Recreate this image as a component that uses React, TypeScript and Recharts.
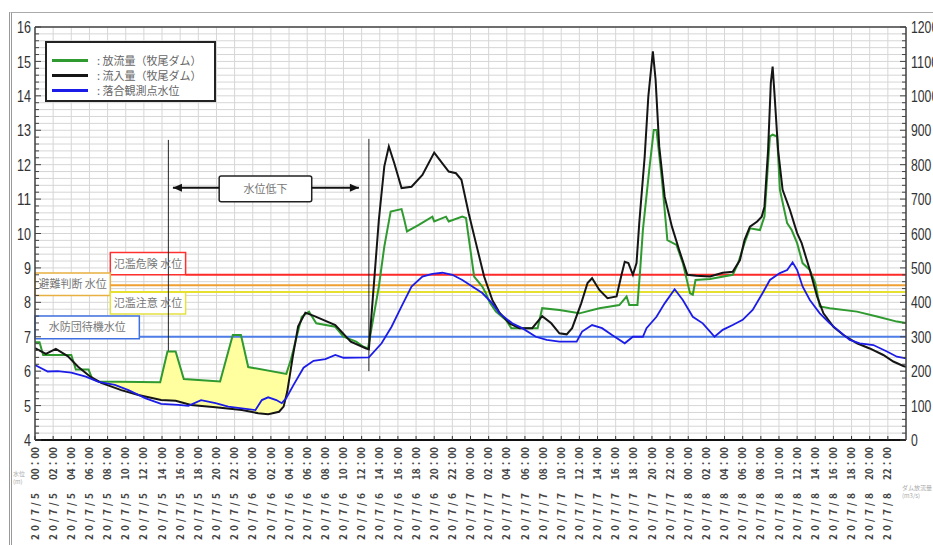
import {
  ComposedChart,
  Line,
  Area,
  XAxis,
  YAxis,
  CartesianGrid,
  Legend,
  ReferenceLine,
  ReferenceArea,
  ReferenceDot,
} from "recharts"

// 放流量（牧尾ダム） m3/s  [hours from 2020/7/5 00:00, value]
const outflow: [number, number][] = [
  [0, 284], [0.5, 284], [0.9, 247], [4.0, 247], [4.5, 205], [5.9, 205], [6.3, 178], [7.0, 170],
  [13.8, 168], [14.6, 257], [15.5, 257], [16.4, 177], [20.4, 170], [21.8, 305], [22.7, 305],
  [23.5, 212], [27.7, 192], [28.2, 233], [29.4, 358], [30.2, 373], [31.0, 339], [33.1, 329],
  [34.0, 300], [35.4, 286], [36.2, 271], [36.7, 266], [37.9, 446], [38.5, 562], [39.2, 664],
  [40.4, 671], [40.7, 640], [41.0, 606], [42.3, 625], [43.8, 649], [44.0, 635], [45.3, 649],
  [45.6, 635], [47.1, 649], [47.5, 645], [48.4, 475], [49.3, 446], [49.7, 426], [50.1, 400],
  [50.8, 373], [51.9, 349], [52.5, 325], [55.4, 325], [55.9, 383], [57.8, 378], [60.0, 368],
  [62.2, 383], [64.4, 392], [65.2, 417], [65.5, 392], [66.4, 392], [66.7, 494], [67.0, 610],
  [67.7, 785], [68.2, 901], [68.5, 901], [69.1, 756], [69.7, 581], [70.7, 567], [71.4, 514],
  [72.2, 426], [72.5, 422], [72.8, 465], [74.4, 468], [76.9, 480], [77.5, 514], [78.2, 572],
  [78.8, 615], [79.9, 610], [80.4, 649], [81.0, 882], [81.3, 887], [81.8, 882], [82.1, 727],
  [82.9, 630], [83.4, 610], [84.0, 572], [84.6, 514], [85.4, 494], [86.0, 456], [86.5, 388],
  [87.6, 383], [90.6, 373], [92.8, 359], [95.0, 344], [96, 340],
]

// 流入量（牧尾ダム） m3/s
const inflow: [number, number][] = [
  [0, 267], [1.2, 250], [2.3, 265], [3.6, 244], [4.75, 213], [6.1, 184], [7.3, 166], [9.5, 145],
  [11.4, 131], [13.9, 116], [15.5, 114], [17.2, 102], [19.9, 95], [22.8, 87], [24.6, 78],
  [25.7, 75], [26.9, 82], [27.4, 97], [27.8, 140], [28.4, 240], [29.0, 330], [29.8, 370],
  [30.8, 360], [33.1, 334], [34.8, 286], [36.5, 266], [36.8, 264], [37.9, 640], [38.5, 795],
  [39.0, 853], [39.6, 804], [40.4, 732], [41.5, 736], [42.7, 770], [44.0, 835], [44.9, 804],
  [45.6, 780], [46.4, 775], [47.0, 756], [47.8, 659], [48.6, 572], [49.5, 475], [50.4, 407],
  [51.2, 370], [52.3, 339], [53.4, 325], [54.8, 325], [55.9, 360], [56.9, 339], [57.8, 310],
  [58.6, 307], [59.2, 325], [60.2, 397], [60.9, 456], [61.4, 470], [62.2, 436], [63.1, 412],
  [64.1, 417], [64.6, 475], [65.0, 518], [65.4, 514], [65.9, 480], [66.3, 514], [66.6, 630],
  [67.2, 824], [67.6, 998], [68.1, 1129], [68.4, 1047], [68.8, 853], [69.4, 707], [70.2, 620],
  [71.0, 552], [71.9, 480], [72.9, 477], [74.4, 475], [75.8, 486], [76.9, 489], [77.7, 523],
  [78.2, 581], [78.8, 620], [79.6, 635], [80.1, 649], [80.4, 678], [80.8, 843], [81.1, 1037],
  [81.3, 1085], [81.5, 1008], [81.9, 843], [82.4, 727], [83.2, 669], [84.0, 601], [84.5, 572],
  [85.4, 494], [86.2, 417], [86.9, 368], [88.0, 329], [89.1, 305], [90.6, 281], [92.0, 266],
  [93.5, 247], [94.6, 228], [95.7, 215], [96, 213],
]

// 落合観測点水位 m
const waterLevel: [number, number][] = [
  [0, 6.18], [1.4, 5.99], [2.5, 6.0], [4.0, 5.96], [5.6, 5.84], [7.0, 5.69], [8.8, 5.6],
  [10.3, 5.45], [12.2, 5.21], [13.9, 5.05], [15.8, 5.02], [16.9, 4.99], [18.3, 5.16],
  [19.9, 5.07], [21.3, 4.97], [22.8, 4.92], [24.3, 4.87], [25.0, 5.16], [25.7, 5.24],
  [26.6, 5.16], [27.2, 5.07], [27.7, 5.22], [28.5, 5.6], [29.6, 6.1], [30.7, 6.3], [32.0, 6.35],
  [33.1, 6.47], [34.0, 6.39], [36.8, 6.4], [38.2, 6.81], [39.3, 7.29], [40.4, 7.88], [41.5, 8.46],
  [42.7, 8.75], [43.8, 8.83], [44.9, 8.86], [46.0, 8.8], [47.1, 8.65], [48.2, 8.46], [49.3, 8.27],
  [50.4, 7.97], [51.2, 7.68], [52.6, 7.39], [53.7, 7.25], [55.2, 7.0], [56.4, 6.91], [57.8, 6.86],
  [59.7, 6.86], [60.3, 7.15], [61.4, 7.34], [62.5, 7.25], [63.6, 7.05], [65.0, 6.81], [65.9, 7.0],
  [67.0, 7.0], [67.4, 7.25], [68.5, 7.58], [69.4, 7.97], [70.5, 8.38], [71.4, 8.07], [72.5, 7.58],
  [73.6, 7.39], [74.4, 7.15], [74.9, 7.0], [75.8, 7.2], [76.9, 7.34], [78.0, 7.49], [79.1, 7.78],
  [80.2, 8.27], [81.0, 8.65], [82.1, 8.85], [82.9, 8.94], [83.5, 9.16], [84.0, 8.94], [84.6, 8.46],
  [85.4, 8.07], [86.5, 7.68], [87.6, 7.39], [88.7, 7.15], [89.8, 6.91], [90.9, 6.81], [92.4, 6.76],
  [93.9, 6.57], [95.0, 6.42], [96, 6.37],
]

// shaded gap between inflow (low) and outflow (high), m3/s
const storedGap: [number, number, number][] = [
  [6.3, 178, 178], [7.0, 168, 170], [9.5, 145, 169], [11.4, 131, 169], [13.8, 117, 168],
  [14.6, 115, 257], [15.5, 114, 257], [16.4, 110, 177], [17.2, 102, 176], [19.9, 95, 171],
  [20.4, 94, 170], [21.8, 90, 305], [22.7, 87, 305], [23.5, 83, 212], [24.6, 78, 207],
  [25.7, 75, 202], [26.9, 82, 197], [27.4, 97, 195], [27.8, 140, 196], [28.2, 215, 233],
]

// thresholds (m)
const dangerLevel = 8.8
const evacuationLevel = 8.5
const warningLevel = 8.3
const standbyLevel = 7.0

const hourTicks = Array.from({ length: 48 }, (_, i) => i * 2)
const levelTicks = Array.from({ length: 61 }, (_, i) => Math.round((4 + i * 0.2) * 10) / 10)
const flowTicks = Array.from({ length: 61 }, (_, i) => i * 20)

const toRows = (arr: [number, number][]) => arr.map(([h, v]) => ({ h, v }))
const gapRows = storedGap.map(([h, lo, hi]) => ({ h, range: [lo, hi] }))

const numFont = "'Liberation Sans', Arial, sans-serif"
const jpFont = "'Noto Sans CJK JP', sans-serif"
const digitWidth = 6.8

const TimeTick = (props: any) => {
  const { x, y, payload } = props
  const h = payload.value as number
  const day = 5 + Math.floor(h / 24)
  const hh = String(h % 24).padStart(2, "0")
  const axisY = y - 7
  return (
    <g>
      <line x1={x} x2={x} y1={axisY} y2={axisY - 4} stroke="#333" />
      <text
        transform={`translate(${x},${y}) rotate(-90)`}
        textAnchor="end"
        dy="0.36em"
        fontSize={10}
        fontWeight="bold"
        fontFamily={jpFont}
        fill="#444"
        textLength={33}
        lengthAdjust="spacing"
      >
        {`${hh}：00`}
      </text>
      <text
        transform={`translate(${x},${y + 46}) rotate(-90)`}
        textAnchor="end"
        dy="0.36em"
        fontSize={10}
        fontWeight="bold"
        fontFamily={jpFont}
        fill="#444"
        textLength={47}
        lengthAdjust="spacing"
      >
        {`20/7/${day}`}
      </text>
    </g>
  )
}

const LevelTick = (props: any) => {
  const { x, y, payload } = props
  const v = payload.value as number
  const major = Math.abs(v - Math.round(v)) < 1e-6
  const axisX = x + 4
  const label = String(Math.round(v))
  return (
    <g>
      <line x1={axisX} x2={axisX + (major ? 6 : 4)} y1={y} y2={y} stroke="#444" />
      {major && (
        <text
          x={x}
          y={y}
          dy="0.36em"
          textAnchor="end"
          fontSize={17}
          fontFamily={numFont}
          fill="#333"
          textLength={label.length * 7}
          lengthAdjust="spacingAndGlyphs"
        >
          {label}
        </text>
      )}
    </g>
  )
}

const FlowTick = (props: any) => {
  const { x, y, payload } = props
  const v = payload.value as number
  const major = v % 100 === 0
  const axisX = x - 5
  const label = String(v)
  return (
    <g>
      <line x1={axisX} x2={axisX - (major ? 6 : 4)} y1={y} y2={y} stroke="#444" />
      {major && (
        <text
          x={x}
          y={y}
          dy="0.36em"
          textAnchor="start"
          fontSize={17}
          fontFamily={numFont}
          fill="#333"
          textLength={label.length * digitWidth}
          lengthAdjust="spacingAndGlyphs"
        >
          {label}
        </text>
      )}
    </g>
  )
}

const renderLegend = (props: any) => {
  const items = (props.payload || []).filter((p: any) => p.type !== "none")
  return (
    <div
      style={{
        border: "2px solid #222",
        background: "#fff",
        width: 167,
        height: 47,
        boxSizing: "content-box",
        paddingTop: 10,
      }}
    >
      {items.map((p: any) => (
        <div key={p.value} style={{ display: "flex", alignItems: "center", height: 15, whiteSpace: "nowrap" }}>
          <span style={{ display: "inline-block", width: 36, height: 3, background: p.color, marginLeft: 5, flex: "none" }} />
          <span style={{ fontSize: 11, color: "#666", fontFamily: jpFont, marginLeft: 9, lineHeight: "13px" }}>
            : {p.value}
          </span>
        </div>
      ))}
    </div>
  )
}

const arrowHead = (dir: number) => (props: any) => {
  const { cx, cy } = props
  return (
    <polygon
      points={`${cx},${cy} ${cx - dir * 9},${cy - 4} ${cx - dir * 9},${cy + 4}`}
      fill="#111"
    />
  )
}

const boxLabel = (value: string) => ({
  value,
  position: "center" as const,
  fill: "#777",
  fontSize: 11,
  fontFamily: jpFont,
})

export default function App() {
  return (
    <div style={{ position: "absolute", left: 0, top: 0, width: 933, height: 545, background: "#fff", overflow: "hidden" }}>
      <div
        style={{
          position: "absolute",
          left: 9,
          top: 12,
          width: 940,
          height: 600,
          borderLeft: "3px double #999",
          borderTop: "1px solid #aaa",
        }}
      />
      <div style={{ position: "absolute", left: 13, top: 470, fontSize: 6, color: "#aaa", fontFamily: jpFont, lineHeight: "8px" }}>
        水位
        <br />
        (m)
      </div>
      <div style={{ position: "absolute", left: 902, top: 484, fontSize: 6, color: "#aaa", fontFamily: jpFont, lineHeight: "8px", whiteSpace: "nowrap" }}>
        ダム放流量
        <br />
        (m3/s)
      </div>
      <ComposedChart
        width={933}
        height={545}
        margin={{ top: 27, right: 0, bottom: 0, left: 5 }}
        style={{ position: "absolute", left: 0, top: 0 }}
      >
        <CartesianGrid stroke="#d6d6d6" strokeWidth={1} />
        <XAxis
          type="number"
          dataKey="h"
          domain={[0, 96]}
          ticks={hourTicks}
          interval={0}
          height={105}
          tickSize={0}
          tickMargin={7}
          tick={<TimeTick />}
          axisLine={{ stroke: "#111", strokeWidth: 2 }}
          allowDataOverflow
        />
        <YAxis
          type="number"
          domain={[4, 16]}
          ticks={levelTicks}
          interval={0}
          width={30}
          tickSize={0}
          tickMargin={4}
          tick={<LevelTick />}
          axisLine={{ stroke: "#444", strokeWidth: 1.5 }}
          allowDataOverflow
        />
        <YAxis
          yAxisId="right"
          orientation="right"
          type="number"
          domain={[0, 1200]}
          ticks={flowTicks}
          interval={0}
          width={27}
          tickSize={0}
          tickMargin={5}
          tick={<FlowTick />}
          axisLine={{ stroke: "#444", strokeWidth: 1.5 }}
          allowDataOverflow
        />
        <ReferenceLine y={16} stroke="#444" strokeWidth={1.5} />

        <Area
          yAxisId="right"
          data={gapRows}
          dataKey="range"
          type="linear"
          stroke="none"
          fill="#ffffa0"
          fillOpacity={1}
          legendType="none"
          isAnimationActive={false}
        />

        {/* threshold lines */}
        <ReferenceLine
          segment={[{ x: 16.6, y: dangerLevel }, { x: 96, y: dangerLevel }]}
          stroke="#ff2a2a"
          strokeWidth={2}
        />
        <ReferenceLine
          segment={[{ x: 8.3, y: evacuationLevel }, { x: 96, y: evacuationLevel }]}
          stroke="#f0a030"
          strokeWidth={2}
        />
        <ReferenceLine
          segment={[{ x: 8.3, y: warningLevel }, { x: 96, y: warningLevel }]}
          stroke="#e6e030"
          strokeWidth={2}
        />
        <ReferenceLine
          segment={[{ x: 11.5, y: standbyLevel }, { x: 96, y: standbyLevel }]}
          stroke="#4d7de6"
          strokeWidth={2}
        />

        {/* threshold labels */}
        <ReferenceArea x1={8.3} x2={16.6} y1={dangerLevel} y2={9.45} fill="#fff" fillOpacity={1} stroke="#ff3030" strokeWidth={1.5} label={boxLabel("氾濫危険 水位")} />
        <ReferenceArea x1={0} x2={8.3} y1={8.2} y2={8.85} fill="#fff" fillOpacity={1} stroke="#e8b040" strokeWidth={1.5} label={boxLabel("避難判断 水位")} />
        <ReferenceArea x1={8.3} x2={16.6} y1={7.66} y2={warningLevel} fill="#fff" fillOpacity={1} stroke="#e6e040" strokeWidth={1.5} label={boxLabel("氾濫注意 水位")} />
        <ReferenceArea x1={0} x2={11.5} y1={6.94} y2={7.6} fill="#fff" fillOpacity={1} stroke="#4070e0" strokeWidth={1.5} label={boxLabel("水防団待機水位")} />

        {/* 水位低下 annotation */}
        <ReferenceLine segment={[{ x: 14.7, y: 12.72 }, { x: 14.7, y: 6.56 }]} stroke="#222" strokeWidth={1} />
        <ReferenceLine segment={[{ x: 36.8, y: 12.75 }, { x: 36.8, y: 6.0 }]} stroke="#222" strokeWidth={1} />
        <ReferenceLine segment={[{ x: 15.2, y: 11.33 }, { x: 20.3, y: 11.33 }]} stroke="#111" strokeWidth={2} />
        <ReferenceLine segment={[{ x: 30.5, y: 11.33 }, { x: 35.7, y: 11.33 }]} stroke="#111" strokeWidth={2} />
        <ReferenceDot x={15.2} y={11.33} r={4} shape={arrowHead(-1)} />
        <ReferenceDot x={35.7} y={11.33} r={4} shape={arrowHead(1)} />
        <ReferenceArea x1={20.3} x2={30.5} y1={10.92} y2={11.67} fill="#fff" fillOpacity={1} stroke="#222" strokeWidth={1.5} radius={2} label={boxLabel("水位低下")} />

        <Line
          yAxisId="right"
          data={toRows(outflow)}
          dataKey="v"
          name="放流量（牧尾ダム）"
          type="linear"
          stroke="#2f9a2f"
          strokeWidth={2}
          dot={false}
          isAnimationActive={false}
        />
        <Line
          yAxisId="right"
          data={toRows(inflow)}
          dataKey="v"
          name="流入量（牧尾ダム）"
          type="linear"
          stroke="#151515"
          strokeWidth={2}
          dot={false}
          isAnimationActive={false}
        />
        <Line
          data={toRows(waterLevel)}
          dataKey="v"
          name="落合観測点水位"
          type="linear"
          stroke="#1c1ce8"
          strokeWidth={1.8}
          dot={false}
          isAnimationActive={false}
        />

        <Legend
          layout="vertical"
          align="center"
          verticalAlign="middle"
          content={renderLegend}
          wrapperStyle={{ left: 45, top: 41, width: 171, height: 61 }}
        />
      </ComposedChart>
    </div>
  )
}
